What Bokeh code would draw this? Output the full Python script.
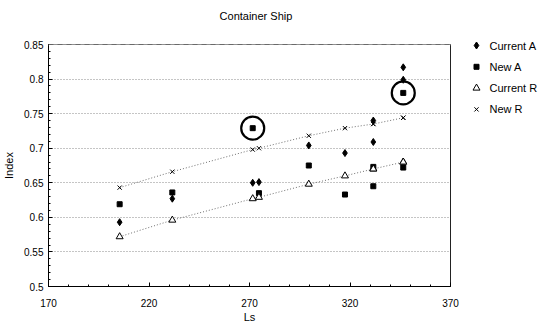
import numpy as np
from bokeh.plotting import figure
from bokeh.layouts import row, column
from bokeh.models import (ColumnDataSource, FixedTicker, Span, Range1d)
from bokeh.core.properties import value
from bokeh.embed import file_html
from bokeh.resources import INLINE

# ---- data ----
ls = [205.4, 231.6, 271.6, 274.7, 299.5, 317.5, 331.6, 331.6, 346.5, 346.5]
current_a = [0.593, 0.627, 0.650, 0.651, 0.704, 0.693, 0.740, 0.709, 0.817, 0.799]
new_a = [0.619, 0.636, 0.729, 0.635, 0.675, 0.633, 0.673, 0.645, 0.780, 0.672]
current_r = [0.572, 0.596, 0.627, 0.629, 0.648, 0.660, 0.670, 0.670, 0.680, 0.680]
new_r = [0.643, 0.666, 0.698, 0.700, 0.718, 0.729, 0.735, 0.735, 0.744, 0.744]
highlight_idx = [2, 8]  # circled "New A" points

x_ticks = [170, 220, 270, 320, 370]
y_ticks = [0.5, 0.55, 0.6, 0.65, 0.7, 0.75, 0.8, 0.85]
y_tick_labels = ["0.5", "0.55", "0.6", "0.65", "0.7", "0.75", "0.8", "0.85"]
series_names = ["Current A", "New A", "Current R", "New R"]
title_text = "Container Ship"

FONT = "Liberation Sans"
W_MAIN, W_LEG, H_HEAD, H_BODY = 468, 74, 30, 295
H_ALL = H_HEAD + H_BODY
FRAME_L, FRAME_R = 45, 450


def bare(fig):
    fig.grid.visible = False
    fig.outline_line_color = None
    fig.background_fill_color = "white"
    fig.border_fill_color = "white"
    return fig


# ---- header with the title (its frame is aligned with the main frame) ----
head = bare(figure(width=W_MAIN, height=H_HEAD, output_backend="svg", toolbar_location=None,
                   x_range=Range1d(FRAME_L, FRAME_R), y_range=Range1d(0, H_HEAD),
                   x_axis_location=None, y_axis_location=None,
                   min_border_left=FRAME_L, min_border_right=W_MAIN - FRAME_R,
                   min_border_top=0, min_border_bottom=0))
head.text(x=[254], y=[H_HEAD - 15], text=[title_text], text_font=value(FONT),
          text_font_size="11px", text_align="center", text_baseline="middle", text_color="black")

# ---- main plot ----
p = figure(width=W_MAIN, height=H_BODY, output_backend="svg", toolbar_location=None,
           x_range=Range1d(170, 370), y_range=Range1d(0.5, 0.85),
           min_border_left=FRAME_L, min_border_right=W_MAIN - FRAME_R,
           min_border_top=14, min_border_bottom=38)
p.outline_line_color = "#222222"
p.outline_line_width = 1
p.background_fill_color = "white"
p.border_fill_color = "white"

p.xgrid.grid_line_color = None
p.ygrid.ticker = FixedTicker(ticks=y_ticks[1:-1])
p.ygrid.grid_line_color = "#8a8a8a"
p.ygrid.grid_line_dash = "1 2"
p.ygrid.grid_line_width = 1
p.add_layout(Span(location=y_ticks[-1], dimension="width", line_color="white", line_width=2))
p.add_layout(Span(location=y_ticks[-1], dimension="width", line_color="#444444",
                  line_dash="5 4", line_width=1))

minor_y = list(np.round(np.arange(0.5, 0.8501, 0.01), 2))
p.xaxis.ticker = FixedTicker(ticks=x_ticks, minor_ticks=list(np.arange(170, 371, 10)))
p.yaxis.ticker = FixedTicker(ticks=y_ticks, minor_ticks=minor_y)
p.yaxis.major_label_overrides = {t: l for t, l in zip(y_ticks, y_tick_labels)}
p.xaxis.axis_label = "Ls"
p.yaxis.axis_label = "Index"
for ax in (p.xaxis[0], p.yaxis[0]):
    ax.axis_line_color = "black"
    ax.axis_line_width = 1
    ax.major_tick_in = 4
    ax.major_tick_out = 0
    ax.minor_tick_in = 2
    ax.minor_tick_out = 0
    ax.major_tick_line_color = "black"
    ax.minor_tick_line_color = "black"
    ax.major_label_text_font = FONT
    ax.major_label_text_font_size = "10px"
    ax.major_label_text_color = "black"
    ax.axis_label_text_font = FONT
    ax.axis_label_text_font_size = "11px"
    ax.axis_label_text_font_style = "normal"
    ax.axis_label_text_color = "black"
p.xaxis.major_label_standoff = 12
p.xaxis.axis_label_standoff = 1
p.yaxis.major_label_standoff = 5
p.yaxis.axis_label_standoff = 6

src = ColumnDataSource(dict(ls=ls, ca=current_a, na=new_a, cr=current_r, nr=new_r))

order = np.argsort(ls)
p.line([ls[i] for i in order], [current_r[i] for i in order], line_color="#6f6f6f",
       line_dash="1 2", line_width=1)
p.line([ls[i] for i in order], [new_r[i] for i in order], line_color="#6f6f6f",
       line_dash="1 2", line_width=1)

STYLES = [dict(marker="diamond", size=7, fill_color="black", line_color="black"),
          dict(marker="square", size=5, fill_color="black", line_color="black"),
          dict(marker="triangle", size=7, fill_color="white", line_color="black", line_width=1),
          dict(marker="x", size=6, line_color="black", line_width=1)]
cols = ["ca", "na", "cr", "nr"]
for c, st in zip(cols, STYLES):
    p.scatter("ls", c, source=src, **st)

p.scatter([ls[i] for i in highlight_idx], [new_a[i] for i in highlight_idx], marker="circle",
          size=23, fill_color=None, line_color="black", line_width=2.2)

# ---- legend panel (pixel-mapped, y downwards) ----
lg = bare(figure(width=W_LEG, height=H_ALL, output_backend="svg", toolbar_location=None,
                 x_range=Range1d(0, W_LEG), y_range=Range1d(H_ALL, 0),
                 x_axis_location=None, y_axis_location=None,
                 min_border_left=0, min_border_right=0, min_border_top=0, min_border_bottom=0))
row_y = [45 + 21.3 * i for i in range(len(series_names))]
for i, st in enumerate(STYLES):
    lg.scatter([8], [row_y[i]], **st)
lg.text(x=[21] * len(series_names), y=row_y, text=series_names, text_font=value(FONT),
        text_font_size="11px", text_align="left", text_baseline="middle", text_color="black")

layout = row(column(head, p, spacing=0), lg, spacing=0)
open("out.html", "w").write(file_html(layout, INLINE))
